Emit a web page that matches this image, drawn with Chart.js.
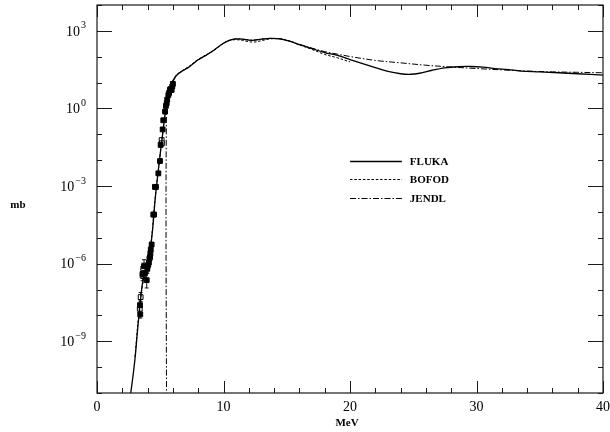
<!DOCTYPE html>
<html>
<head>
<meta charset="utf-8">
<script src="https://cdn.jsdelivr.net/npm/chart.js@4.4.1/dist/chart.umd.min.js"></script>
<style>
  html, body { margin: 0; padding: 0; background: #fff; }
  #wrap { width: 610px; height: 432px; }
</style>
</head>
<body>
<div id="wrap"><canvas id="cv" width="610" height="432"></canvas></div>
<script>
// Fission cross section (mb) vs neutron energy (MeV)

// FLUKA calculation
const flukaE = [2.55, 2.7, 3.0, 3.2, 3.4, 3.6, 3.8, 4.0, 4.2, 4.4, 4.6, 4.8, 5.0, 5.2, 5.4, 5.6, 5.8, 6.0, 6.3, 6.7,
  7.2, 7.6, 8.0, 8.5, 9.0, 9.5, 10.0, 10.5, 11.0, 11.5, 12.0, 12.5, 13.0, 13.7, 14.5, 15.2, 16.0, 17.0, 18.0, 19.0,
  20.0, 21.0, 22.0, 23.0, 24.0, 24.8, 25.5, 26.5, 27.5, 28.5, 29.5, 30.5, 31.5, 32.5, 33.5, 35.0, 36.5, 38.0, 40.0];
const flukaMb = [5.0e-12, 1.3e-11, 2.0e-10, 2.5e-9, 2.5e-8, 1.8e-7, 4.5e-7, 1.0e-6, 3.2e-6, 2.2e-5, 3.2e-4, 2.5e-3,
  1.8e-2, 0.11, 0.71, 2.8, 7.1, 11.2, 19, 27,
  38, 54, 76, 105, 148, 224, 331, 437, 490, 479, 437, 437, 479, 513, 490, 398, 295, 204, 145, 112,
  78, 54, 38, 27, 22, 21, 23, 30, 37, 41, 42, 40, 35, 32, 28, 26, 24, 22, 19.5];

// BOFOD evaluation
const bofodE = [3.0, 3.4, 3.8, 4.2, 4.6, 5.0, 5.4, 5.8, 6.3, 7.2, 8.0, 9.0, 10.0, 10.5, 11.0, 11.5, 12.0, 12.5,
  13.0, 13.7, 14.5, 15.2, 16.0, 17.0, 18.0, 19.0, 20.0];
const bofodMb = [2.5e-10, 3.2e-8, 5.0e-7, 3.5e-6, 3.5e-4, 1.8e-2, 0.71, 7.1, 20, 40, 79, 151, 331, 427, 457, 427,
  380, 372, 417, 490, 490, 407, 288, 191, 123, 91, 63];

// JENDL evaluation (threshold at 5.5 MeV)
const jendlE = [5.5, 5.5, 5.8, 6.3, 7.2, 8.0, 9.0, 10.0, 10.5, 11.0, 11.5, 12.0, 12.5, 13.0, 13.7, 14.5, 15.2,
  16.0, 17.0, 18.0, 19.0, 20.0, 22.0, 24.0, 26.0, 28.0, 30.0, 32.0, 34.0, 36.0, 38.0, 40.0];
const jendlMb = [1.0e-13, 2.0, 7.1, 20, 38, 76, 148, 331, 437, 490, 479, 447, 447, 479, 513, 490, 407,
  302, 214, 158, 126, 102, 72, 58, 47, 40, 35, 31, 28, 26, 25, 24];

// Measurements: energy, cross section, error factor
const expFilledE  = [3.40, 3.42, 3.60, 3.72, 3.79, 3.93, 3.98, 4.05, 4.10, 4.15, 4.19, 4.22, 4.25, 4.32, 4.45,
  4.51, 4.58, 4.66, 4.85, 4.98, 5.03, 5.19, 5.24, 5.38, 5.45, 5.51, 5.55, 5.64, 5.70, 5.77, 5.80, 5.90, 5.95, 6.00];
const expFilledMb = [2.5e-8, 1.1e-8, 4.0e-7, 7.9e-7, 4.3e-7, 2.3e-7, 6.3e-7, 9.0e-7, 1.1e-6, 1.6e-6, 1.8e-6,
  2.5e-6, 3.5e-6, 5.5e-6, 7.9e-5, 7.9e-5, 9.3e-4, 9.3e-4, 3.1e-3, 9.3e-3, 3.9e-2, 0.155, 0.35, 0.76, 1.26, 1.6,
  2.2, 3.3, 4.0, 5.2, 5.6, 5.2, 7.1, 8.9];
const expFilledErr = [1.6, 1.4, 1.5, 1.8, 1.6, 2.0, 1.5, 1.4, 1.4, 1.3, 1.3, 1.3, 1.3, 1.2, 1.2,
  1.2, 1.1, 1.1, 1.1, 1.1, 1.1, 1.05, 1.05, 1.05, 1.05, 1.05, 1.05, 1.05, 1.05, 1.05, 1.05, 1.05, 1.05, 1.05];

const expOpenE   = [3.38, 3.45, 3.61, 3.66, 5.11, 5.13];
const expOpenMb  = [1.8e-8, 5.1e-8, 3.5e-7, 6.5e-7, 6.0e-2, 4.5e-2];
const expOpenErr = [1.5, 1.5, 1.6, 1.6, 1.1, 1.1];

// Axis ticks
const xMajorTicks = [0, 10, 20, 30, 40];
const xMinorStep = 2;
const yMajorExps = [-9, -6, -3, 0, 3];
const yRange = [1e-11, 1e4];

// Legend entries
const legendLabels = ['FLUKA', 'BOFOD', 'JENDL'];

const toPts = (xs, ys) => xs.map((x, i) => ({ x: x, y: ys[i] }));

const frameColor = '#1a1a1a';
const serif = '"Liberation Serif", "DejaVu Serif", serif';

const styles = [
  { dash: [], width: 1.3 },
  { dash: [2.5, 1.8], width: 1.0 },
  { dash: [6, 2, 1.5, 2], width: 1.0 }
];

const customAxes = {
  id: 'customAxes',
  beforeDatasetsDraw(chart) {
    // error bars under the markers
    const ctx = chart.ctx, xs = chart.scales.x, ys = chart.scales.y;
    ctx.save();
    ctx.strokeStyle = '#111';
    ctx.lineWidth = 1;
    const drawBars = (E, V, F) => {
      E.forEach((e, i) => {
        const px = xs.getPixelForValue(e);
        const y1 = ys.getPixelForValue(V[i] * F[i]);
        const y2 = ys.getPixelForValue(V[i] / F[i]);
        ctx.beginPath();
        ctx.moveTo(px, y1); ctx.lineTo(px, y2);
        ctx.moveTo(px - 2, y1); ctx.lineTo(px + 2, y1);
        ctx.moveTo(px - 2, y2); ctx.lineTo(px + 2, y2);
        ctx.stroke();
      });
    };
    drawBars(expFilledE, expFilledMb, expFilledErr);
    drawBars(expOpenE, expOpenMb, expOpenErr);
    ctx.restore();
  },
  afterDraw(chart) {
    const ctx = chart.ctx, a = chart.chartArea;
    const xs = chart.scales.x, ys = chart.scales.y;
    ctx.save();
    ctx.strokeStyle = frameColor;
    ctx.lineWidth = 1.2;
    ctx.setLineDash([]);
    ctx.strokeRect(a.left, a.top, a.right - a.left, a.bottom - a.top);

    // x ticks, inward on bottom and top
    ctx.lineWidth = 1;
    ctx.beginPath();
    for (let v = 0; v <= 40; v += xMinorStep) {
      const px = Math.round(xs.getPixelForValue(v)) + 0.5;
      const len = xMajorTicks.includes(v) ? 12 : 5;
      ctx.moveTo(px, a.bottom); ctx.lineTo(px, a.bottom - len);
      ctx.moveTo(px, a.top); ctx.lineTo(px, a.top + len);
    }
    // y ticks, inward on left and right
    for (let e = -11; e <= 4; e++) {
      const py = Math.round(ys.getPixelForValue(Math.pow(10, e))) + 0.5;
      const len = yMajorExps.includes(e) ? 15 : 5;
      ctx.moveTo(a.left, py); ctx.lineTo(a.left + len, py);
      ctx.moveTo(a.right, py); ctx.lineTo(a.right - len, py);
    }
    ctx.stroke();

    // tick labels
    ctx.fillStyle = '#000';
    ctx.textBaseline = 'middle';
    ctx.textAlign = 'center';
    ctx.font = '14px ' + serif;
    xMajorTicks.forEach(v => {
      ctx.fillText(String(v), xs.getPixelForValue(v), a.bottom + 14);
    });

    yMajorExps.forEach(e => {
      const py = ys.getPixelForValue(Math.pow(10, e));
      const exp = e < 0 ? '\u2212' + Math.abs(e) : String(e);
      ctx.font = '10px ' + serif;
      const we = ctx.measureText(exp).width;
      ctx.font = '14px ' + serif;
      const wb = ctx.measureText('10').width;
      const right = a.left - 11;
      ctx.textAlign = 'left';
      ctx.fillText('10', right - we - wb - 1, py + 1);
      ctx.font = '10px ' + serif;
      ctx.fillText(exp, right - we, py - 5);
    });

    // axis titles
    ctx.font = 'bold 11px ' + serif;
    ctx.textAlign = 'center';
    ctx.fillText('MeV', (a.left + a.right) / 2 - 3, a.bottom + 30);
    ctx.fillText('mb', 18, 205);

    // legend
    const lx0 = xs.getPixelForValue(20.0), lx1 = xs.getPixelForValue(24.1);
    const rows = [161, 179, 198];
    legendLabels.forEach((lab, i) => {
      ctx.strokeStyle = '#000';
      ctx.lineWidth = styles[i].width;
      ctx.setLineDash(styles[i].dash);
      ctx.beginPath();
      ctx.moveTo(lx0, rows[i] + 0.5); ctx.lineTo(lx1, rows[i] + 0.5);
      ctx.stroke();
      ctx.setLineDash([]);
      ctx.textAlign = 'left';
      ctx.font = 'bold 11px ' + serif;
      ctx.fillText(lab, lx1 + 8, rows[i] + 1);
    });
    ctx.restore();
  }
};

const lineDs = (label, data, st) => ({
  label: label,
  data: data,
  showLine: true,
  borderColor: '#000',
  borderWidth: st.width,
  borderDash: st.dash,
  pointRadius: 0,
  tension: 0.35,
  fill: false
});

new Chart(document.getElementById('cv'), {
  type: 'scatter',
  data: {
    datasets: [
      lineDs('FLUKA', toPts(flukaE, flukaMb), styles[0]),
      lineDs('BOFOD', toPts(bofodE, bofodMb), styles[1]),
      lineDs('JENDL', toPts(jendlE, jendlMb), styles[2]),
      {
        label: 'data',
        data: toPts(expFilledE, expFilledMb),
        pointStyle: 'rect',
        pointRadius: 3.4,
        backgroundColor: '#000',
        borderColor: '#000',
        borderWidth: 1
      },
      {
        label: 'data (open)',
        data: toPts(expOpenE, expOpenMb),
        pointStyle: 'rect',
        pointRadius: 3.4,
        backgroundColor: '#fff',
        borderColor: '#000',
        borderWidth: 1
      }
    ]
  },
  options: {
    responsive: false,
    animation: false,
    layout: { padding: { left: 97, right: 7, top: 5, bottom: 39 } },
    plugins: { legend: { display: false }, tooltip: { enabled: false } },
    scales: {
      x: { type: 'linear', min: 0, max: 40, display: false },
      y: { type: 'logarithmic', min: yRange[0], max: yRange[1], display: false }
    }
  },
  plugins: [customAxes]
});
</script>
</body>
</html>
